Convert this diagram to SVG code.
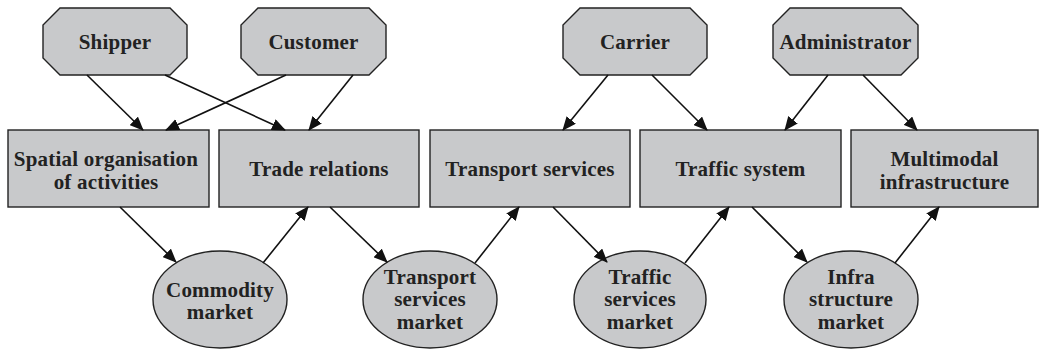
<svg xmlns="http://www.w3.org/2000/svg" width="1041" height="350" viewBox="0 0 1041 350">
<style>
.n{fill:#c8c9cb;stroke:#222;stroke-width:1.4}
.t{font-family:"Liberation Serif",serif;font-weight:bold;font-size:21px;letter-spacing:0.2px;fill:#222;text-anchor:middle}
.c line{stroke:#111;stroke-width:1.6;marker-end:url(#ah)}
</style>
<defs>
<marker id="ah" markerWidth="14" markerHeight="12" viewBox="0 0 14 12" refX="13" refY="6" orient="auto" markerUnits="userSpaceOnUse">
<path d="M0,0 L14,6 L0,12 Z" fill="#111"/>
</marker>
</defs>
<rect width="1041" height="350" fill="#fff"/>
<g id="shipper"><polygon class="n" points="60,8 170,8 187,25 187,58 170,75 60,75 43,58 43,25"/><text class="t" x="115" y="49">Shipper</text></g>
<g id="customer"><polygon class="n" points="258,8 369,8 386,25 386,58 369,75 258,75 241,58 241,25"/><text class="t" x="313.5" y="49">Customer</text></g>
<g id="carrier"><polygon class="n" points="580,8 690,8 707,25 707,58 690,75 580,75 563,58 563,25"/><text class="t" x="635" y="49">Carrier</text></g>
<g id="administrator"><polygon class="n" points="790,8 901,8 918,25 918,58 901,75 790,75 773,58 773,25"/><text class="t" x="845.5" y="49">Administrator</text></g>
<g id="spatial"><rect class="n" x="8" y="130" width="201" height="77"/><text class="t" x="106" y="166">Spatial organisation</text><text class="t" x="106" y="189">of activities</text></g>
<g id="trade"><rect class="n" x="219" y="130" width="200" height="77"/><text class="t" x="319" y="176">Trade relations</text></g>
<g id="transport"><rect class="n" x="430" y="130" width="200" height="77"/><text class="t" x="530" y="176">Transport services</text></g>
<g id="traffic"><rect class="n" x="640" y="130" width="201" height="77"/><text class="t" x="740.5" y="176">Traffic system</text></g>
<g id="multimodal"><rect class="n" x="851" y="130" width="187" height="77"/><text class="t" x="944.5" y="166">Multimodal</text><text class="t" x="944.5" y="189">infrastructure</text></g>
<g id="commodity"><ellipse class="n" cx="220" cy="299.5" rx="67" ry="48.5"/><text class="t" x="220" y="297">Commodity</text><text class="t" x="220" y="319">market</text></g>
<g id="tsmarket"><ellipse class="n" cx="430" cy="299.5" rx="67" ry="48.5"/><text class="t" x="430" y="284">Transport</text><text class="t" x="430" y="306">services</text><text class="t" x="430" y="329">market</text></g>
<g id="trafficmarket"><ellipse class="n" cx="640" cy="299.5" rx="66" ry="48.5"/><text class="t" x="640" y="284">Traffic</text><text class="t" x="640" y="306">services</text><text class="t" x="640" y="329">market</text></g>
<g id="inframarket"><ellipse class="n" cx="851" cy="299.5" rx="67" ry="48.5"/><text class="t" x="851" y="284">Infra</text><text class="t" x="851" y="306">structure</text><text class="t" x="851" y="329">market</text></g>
<g id="connectors" class="c">
<line x1="87" y1="75" x2="143" y2="130"/>
<line x1="165" y1="75" x2="285" y2="130"/>
<line x1="286" y1="75" x2="166" y2="130"/>
<line x1="353" y1="75" x2="309" y2="130"/>
<line x1="608" y1="75" x2="563" y2="130"/>
<line x1="652" y1="75" x2="707" y2="130"/>
<line x1="828" y1="75" x2="785" y2="130"/>
<line x1="863" y1="75" x2="917" y2="130"/>
<line x1="120" y1="207" x2="176" y2="262"/>
<line x1="263" y1="263" x2="308" y2="207"/>
<line x1="330" y1="207" x2="387" y2="262"/>
<line x1="475" y1="263" x2="519" y2="207"/>
<line x1="553" y1="207" x2="607" y2="262"/>
<line x1="685" y1="263" x2="729" y2="207"/>
<line x1="752" y1="207" x2="807" y2="262"/>
<line x1="895" y1="263" x2="939" y2="207"/>
</g>
</svg>
